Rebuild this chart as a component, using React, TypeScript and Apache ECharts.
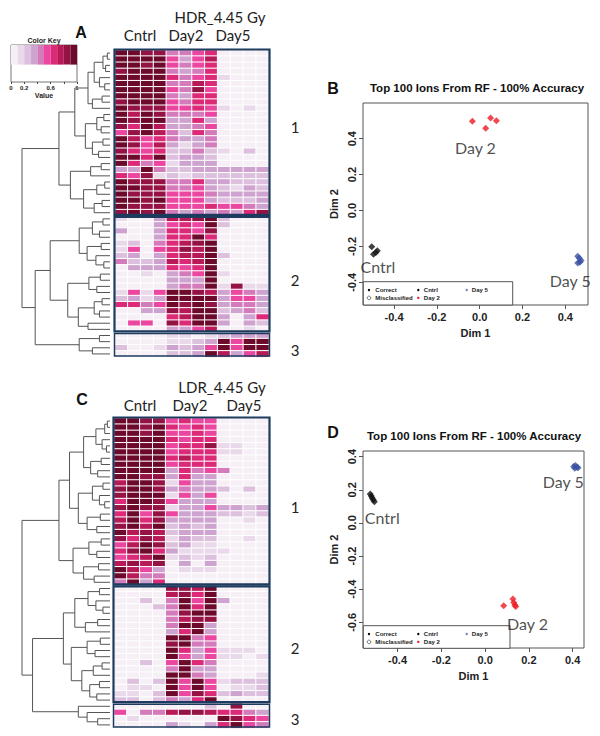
import React, { useEffect, useRef } from "react";
import * as echarts from "echarts";

// ---------- heatmap data (binned colour-key levels 0..9) ----------
const sampleColumns = ["C1", "C2", "C3", "C4", "D2a", "D2b", "D2c", "D2d", "D5a", "D5b", "D5c", "D5d"];
const levelColors = ["#f6f0f6", "#e9d9ea", "#dcc0dd", "#cfa3cf", "#d47bbb", "#ec47a0", "#dc2a78", "#b81a58", "#951244", "#6d0a2c"];
const keyBreaks = [0, 0.1, 0.2, 0.3, 0.4, 0.5, 0.6, 0.7, 0.8, 0.9, 1];
const keyTicks = [0, 0.2, 0.4, 0.6, 0.8, 1];
const keyLabels = [0, 0.2, 0.6, 1];

const hdrCluster1 = [
  [9, 9, 8, 8, 4, 4, 5, 6, 0, 0, 0, 0],
  [9, 9, 9, 9, 5, 3, 5, 7, 0, 0, 0, 0],
  [9, 9, 8, 9, 5, 4, 5, 6, 0, 0, 0, 0],
  [8, 9, 9, 9, 4, 3, 4, 6, 0, 0, 0, 0],
  [9, 9, 9, 9, 6, 4, 5, 6, 1, 0, 0, 0],
  [9, 9, 9, 9, 4, 4, 7, 6, 0, 0, 0, 0],
  [9, 9, 9, 9, 5, 4, 8, 5, 0, 0, 0, 0],
  [9, 9, 9, 9, 4, 3, 6, 6, 0, 0, 0, 0],
  [8, 9, 9, 9, 5, 4, 6, 6, 0, 0, 0, 0],
  [9, 8, 8, 8, 5, 5, 6, 5, 1, 0, 1, 0],
  [9, 7, 9, 8, 4, 4, 4, 5, 0, 0, 0, 0],
  [9, 8, 9, 9, 3, 3, 6, 3, 0, 0, 0, 0],
  [8, 6, 9, 7, 3, 3, 4, 5, 0, 0, 0, 0],
  [5, 8, 9, 7, 4, 2, 6, 4, 0, 0, 0, 0],
  [9, 7, 5, 6, 4, 3, 3, 4, 0, 0, 0, 0],
  [9, 8, 5, 7, 3, 1, 3, 4, 0, 0, 0, 0],
  [8, 6, 5, 6, 2, 2, 4, 2, 1, 0, 2, 0],
  [9, 9, 6, 9, 2, 3, 3, 2, 0, 0, 0, 0],
  [9, 6, 4, 5, 1, 3, 3, 3, 0, 0, 0, 0],
  [3, 3, 9, 4, 2, 2, 3, 3, 3, 3, 3, 3],
  [6, 5, 8, 1, 2, 1, 2, 2, 2, 2, 2, 2],
  [9, 8, 8, 8, 4, 4, 6, 3, 3, 2, 2, 2],
  [9, 9, 8, 8, 4, 4, 5, 3, 2, 1, 3, 2],
  [9, 8, 8, 8, 5, 5, 5, 4, 3, 3, 3, 3],
  [9, 9, 8, 9, 5, 5, 5, 3, 2, 2, 2, 3],
  [9, 8, 8, 8, 5, 5, 5, 6, 5, 5, 4, 3],
  [8, 9, 8, 9, 4, 3, 4, 3, 4, 3, 6, 8],
];
const hdrCluster2 = [
  [1, 0, 0, 3, 7, 7, 8, 9, 2, 0, 0, 0],
  [0, 0, 0, 3, 5, 6, 5, 9, 2, 0, 0, 0],
  [3, 0, 0, 3, 6, 6, 5, 8, 0, 0, 0, 0],
  [0, 0, 0, 3, 6, 6, 9, 6, 0, 0, 0, 0],
  [1, 2, 0, 4, 6, 7, 8, 9, 0, 0, 0, 0],
  [1, 5, 0, 5, 6, 8, 7, 9, 0, 0, 0, 0],
  [2, 3, 0, 3, 6, 7, 7, 9, 2, 0, 0, 0],
  [4, 2, 2, 3, 7, 6, 7, 9, 0, 0, 0, 0],
  [0, 3, 3, 3, 6, 5, 6, 9, 0, 0, 0, 0],
  [0, 0, 1, 0, 3, 4, 5, 9, 1, 0, 0, 0],
  [0, 0, 0, 0, 3, 3, 3, 9, 0, 0, 0, 0],
  [0, 0, 0, 0, 3, 4, 4, 9, 1, 8, 1, 1],
  [1, 5, 1, 5, 9, 9, 8, 7, 3, 5, 4, 3],
  [2, 3, 1, 3, 9, 9, 9, 9, 3, 5, 5, 3],
  [6, 6, 4, 5, 9, 8, 9, 8, 3, 4, 4, 3],
  [0, 0, 3, 3, 8, 7, 9, 9, 2, 3, 4, 2],
  [0, 0, 0, 0, 6, 7, 9, 9, 3, 0, 3, 6],
  [0, 5, 5, 0, 8, 6, 9, 9, 3, 0, 3, 2],
  [0, 0, 0, 0, 3, 3, 5, 7, 0, 0, 1, 0],
];
const hdrCluster3 = [
  [0, 0, 0, 0, 1, 1, 0, 1, 2, 3, 3, 3],
  [0, 0, 0, 0, 1, 1, 2, 3, 9, 5, 9, 9],
  [2, 0, 0, 1, 3, 2, 3, 5, 9, 5, 9, 9],
  [0, 0, 0, 0, 2, 2, 3, 9, 7, 3, 5, 7],
];

const ldrCluster1 = [
  [9, 9, 8, 8, 5, 6, 5, 5, 0, 0, 0, 0],
  [9, 9, 8, 9, 6, 5, 6, 5, 0, 0, 0, 0],
  [9, 9, 8, 9, 5, 5, 6, 5, 0, 0, 0, 0],
  [9, 9, 9, 9, 6, 5, 6, 6, 0, 0, 0, 0],
  [9, 9, 9, 9, 5, 6, 6, 8, 1, 1, 0, 0],
  [9, 9, 9, 9, 5, 6, 6, 6, 1, 1, 0, 0],
  [9, 9, 9, 9, 6, 7, 6, 6, 0, 0, 0, 0],
  [9, 9, 9, 9, 5, 6, 6, 6, 0, 0, 0, 0],
  [9, 9, 9, 9, 3, 6, 4, 5, 4, 0, 0, 0],
  [9, 9, 8, 8, 3, 6, 3, 3, 0, 0, 0, 0],
  [7, 9, 9, 8, 1, 5, 3, 3, 0, 0, 0, 0],
  [8, 9, 9, 8, 3, 4, 3, 3, 2, 0, 2, 0],
  [8, 9, 9, 9, 1, 5, 3, 5, 0, 0, 0, 0],
  [6, 9, 9, 8, 5, 3, 3, 3, 0, 0, 0, 0],
  [8, 9, 8, 8, 1, 3, 3, 5, 3, 3, 2, 3],
  [6, 9, 5, 8, 5, 3, 3, 3, 2, 2, 1, 2],
  [7, 9, 6, 8, 3, 3, 3, 3, 0, 0, 1, 0],
  [8, 9, 7, 9, 2, 3, 2, 3, 0, 0, 0, 0],
  [9, 7, 8, 7, 2, 3, 3, 3, 0, 0, 0, 0],
  [8, 6, 8, 7, 1, 3, 2, 2, 0, 0, 1, 0],
  [5, 7, 9, 8, 2, 3, 1, 1, 0, 0, 0, 0],
  [6, 8, 9, 6, 3, 1, 1, 1, 1, 0, 0, 0],
  [5, 6, 7, 9, 1, 2, 1, 2, 0, 0, 0, 0],
  [7, 8, 7, 8, 0, 3, 0, 3, 0, 0, 0, 0],
  [9, 7, 5, 3, 0, 1, 1, 1, 0, 0, 0, 0],
  [9, 7, 4, 4, 0, 0, 0, 0, 0, 0, 0, 0],
  [4, 9, 3, 6, 0, 0, 0, 0, 0, 0, 0, 0],
];
const ldrCluster2 = [
  [0, 0, 0, 0, 8, 8, 7, 9, 0, 0, 0, 0],
  [0, 0, 0, 0, 7, 8, 6, 9, 0, 0, 0, 0],
  [0, 0, 2, 0, 4, 9, 5, 9, 3, 0, 0, 0],
  [0, 0, 0, 2, 4, 9, 6, 9, 0, 0, 0, 0],
  [0, 0, 0, 0, 4, 8, 9, 9, 0, 0, 0, 0],
  [0, 0, 0, 0, 4, 7, 8, 8, 0, 0, 0, 0],
  [0, 0, 0, 0, 4, 9, 9, 3, 0, 0, 0, 0],
  [0, 0, 0, 0, 3, 6, 9, 3, 0, 0, 0, 0],
  [0, 0, 0, 0, 9, 9, 4, 5, 0, 0, 0, 0],
  [0, 0, 0, 0, 8, 9, 4, 4, 0, 0, 0, 0],
  [0, 0, 0, 0, 9, 6, 3, 5, 1, 1, 1, 0],
  [0, 0, 0, 0, 9, 5, 3, 5, 1, 1, 0, 1],
  [0, 0, 2, 0, 5, 9, 6, 4, 0, 0, 0, 0],
  [0, 0, 0, 0, 4, 9, 3, 3, 0, 0, 0, 0],
  [0, 0, 0, 0, 9, 9, 4, 3, 0, 0, 0, 1],
  [0, 2, 0, 2, 9, 5, 9, 5, 1, 2, 2, 2],
  [0, 1, 1, 0, 9, 5, 9, 5, 0, 1, 1, 2],
  [1, 1, 0, 2, 9, 5, 8, 6, 2, 3, 2, 2],
  [2, 2, 0, 2, 4, 3, 6, 9, 0, 0, 0, 0],
];
const ldrCluster3 = [
  [0, 0, 0, 0, 0, 0, 0, 2, 0, 8, 0, 0],
  [5, 0, 4, 4, 7, 8, 8, 7, 6, 6, 4, 3],
  [0, 1, 0, 0, 0, 0, 0, 0, 9, 8, 6, 5],
  [0, 0, 0, 0, 3, 1, 0, 3, 6, 9, 5, 4],
];

// ---------- dendrograms: [height, left, right], leaves = row index ----------
type Tree = number | [number, Tree, Tree];
const hdrTree: Tree = [10,
  [5.8,
    [4.0,
      [2.5, [1.8, [0.8, [0.3, 0, 1], [0.5, 2, 3]], [1.2, 4, [0.6, 5, 6]]], [2.0, [0.9, 7, 8], 9]],
      [2.8, [1.5, [0.7, 10, 11], [1.0, 12, 13]], [2.0, [0.8, 14, 15], [1.3, 16, 17]]]],
    [4.5, [2.2, [1.0, 18, 19], 20], [3.0, [1.5, [0.6, 21, 22], 23], [1.8, [0.9, 24, 25], 26]]]],
  [8.5,
    [6.8,
      [3.5, [2.0, [0.8, 27, 28], [1.2, 29, 30]], [2.6, [1.0, 31, 32], [1.6, 33, [0.7, 34, 35]]]],
      [4.8, [2.4, [1.1, 36, 37], [1.5, 38, 39]], [3.6, [1.8, [0.9, 40, 41], [1.2, 42, 43]], [2.5, 44, 45]]]],
    [3.5, [1.2, 46, 47], [2.0, 48, 49]]]];

const ldrTree: Tree = [10,
  [5.8,
    [4.6,
      [3.0, [1.6, [0.6, [0.3, 0, 1], 2], [0.9, 3, [0.4, 4, 5]]], [2.2, [1.0, 6, 7], [1.4, 8, 9]]],
      [3.6, [2.0, [0.8, 10, 11], [1.2, 12, [0.6, 13, 14]]], [2.6, [1.1, 15, 16], [1.5, 17, 18]]]],
    [4.2, [2.4, [1.0, 19, 20], [1.5, 21, 22]], [3.0, [1.3, 23, 24], [1.8, 25, 26]]]],
  [8.8,
    [5.3,
      [4.0, [2.5, [1.2, 27, 28], [1.6, 29, [0.8, 30, 31]]], [2.8, [1.4, 32, 33], 34]],
      [4.4, [2.6, [1.1, 35, 36], [1.7, 37, 38]], [3.2, [1.9, [0.9, 39, 40], 41], [2.3, [1.2, 42, 43], [1.5, 44, 45]]]]],
    [3.6, 46, [2.6, 47, [1.4, 48, 49]]]]];

// ---------- MDS scatter data ----------
const hdrCntrl = [[-0.504, -0.202], [-0.478, -0.224], [-0.485, -0.233], [-0.496, -0.244]];
const hdrDay2 = [[-0.034, 0.497], [0.028, 0.458], [0.051, 0.515], [0.078, 0.5]];
const hdrDay5 = [[0.458, -0.255], [0.466, -0.266], [0.474, -0.278], [0.468, -0.288], [0.458, -0.292]];
const hdrTextLabels = [
  { name: "Day 2", value: [-0.02, 0.35] },
  { name: "Cntrl", value: [-0.475, -0.314] },
  { name: "Day 5", value: [0.423, -0.388] },
];
const ldrCntrl = [[-0.525, 0.175], [-0.52, 0.162], [-0.516, 0.15], [-0.511, 0.14], [-0.506, 0.128]];
const ldrDay2 = [[0.085, -0.5], [0.127, -0.46], [0.131, -0.48], [0.136, -0.495], [0.14, -0.505]];
const ldrDay5 = [[0.405, 0.34], [0.413, 0.347], [0.42, 0.336], [0.41, 0.33], [0.425, 0.333]];
const ldrTextLabels = [
  { name: "Day 5", value: [0.357, 0.247] },
  { name: "Cntrl", value: [-0.47, 0.033] },
  { name: "Day 2", value: [0.194, -0.609] },
];
const dimTicksX = [-0.4, -0.2, 0, 0.2, 0.4];
const dimTicksYB = [-0.4, -0.2, 0, 0.2, 0.4];
const dimTicksYD = [-0.6, -0.4, -0.2, 0, 0.2, 0.4];

const RED = "#ee1c24";
const BLUE = "#3a50a0";
const BOX = "#1d3b5e";
const RFONT = "Liberation Sans";

function flattenTree(t: Tree, out: number[][]): { y: number; h: number } {
  if (typeof t === "number") return { y: t, h: 0 };
  const l = flattenTree(t[1], out);
  const r = flattenTree(t[2], out);
  out.push([t[0], l.y, r.y, l.h, r.h]);
  return { y: (l.y + r.y) / 2, h: t[0] };
}

function heatData(rows: number[][]) {
  return rows.flatMap((row, r) => row.map((v, c) => [c, r, v]));
}

function clusterRanges(sizes: number[]) {
  const out: number[][] = [];
  let s = 0;
  sizes.forEach((n, i) => {
    out.push([0, s, s + n - 1, i]);
    s += n;
  });
  return out;
}

function txt(text: string, x: number, y: number, o: any = {}) {
  return {
    type: "text",
    x,
    y,
    silent: true,
    style: {
      text,
      fill: "#222",
      fontFamily: "Lato",
      fontSize: 15,
      textAlign: "center",
      textVerticalAlign: "middle",
      ...o,
    },
  };
}

function legendBox(x0: number, y0: number, w: number, h: number) {
  const rows = [8.3, 16.2];
  const dots = [5.7, 55, 103.4];
  const texts = [12, 60.5, 108.5];
  const items = [
    { c: 0, r: 0, t: "Correct", color: "#000", open: false },
    { c: 0, r: 1, t: "Misclassified", color: "#444", open: true },
    { c: 1, r: 0, t: "Cntrl", color: "#000", open: false },
    { c: 1, r: 1, t: "Day 2", color: RED, open: false },
    { c: 2, r: 0, t: "Day 5", color: "#6a7fb5", open: false },
  ];
  const children: any[] = [
    { type: "rect", shape: { x: 0, y: 0, width: w, height: h }, style: { fill: "#fff", stroke: "#555", lineWidth: 1 } },
  ];
  items.forEach((it) => {
    children.push({
      type: "circle",
      shape: { cx: dots[it.c], cy: rows[it.r], r: it.open ? 1.8 : 1.2 },
      style: it.open ? { fill: "none", stroke: it.color, lineWidth: 0.7 } : { fill: it.color },
    });
    children.push({
      type: "text",
      x: texts[it.c],
      y: rows[it.r],
      style: { text: it.t, fill: "#222", fontFamily: RFONT, fontWeight: "bold", fontSize: 6, textAlign: "left", textVerticalAlign: "middle" },
    });
  });
  return { type: "group", x: x0, y: y0, silent: true, children };
}

function boxRender(params: any, api: any) {
  const r0 = api.value(1);
  const r1 = api.value(2);
  const idx = api.value(3);
  const size = api.size([1, 1]);
  const a = api.coord([0, r0]);
  const b = api.coord([11, r1]);
  const x = a[0] - size[0] / 2 - 0.5;
  const y = a[1] - size[1] / 2 + (idx === 0 ? -0.5 : 1);
  const w = b[0] + size[0] / 2 - x + 0.5;
  const h = b[1] + size[1] / 2 - y - 1;
  return {
    type: "rect",
    shape: { x, y, width: w, height: h },
    style: { fill: "none", stroke: BOX, lineWidth: idx === 2 ? 1.5 : 2.2 },
  };
}

function dendroRender(params: any, api: any) {
  const h = api.value(0);
  const yl = api.value(1);
  const yr = api.value(2);
  const hl = api.value(3);
  const hr = api.value(4);
  const p1 = api.coord([hl, yl]);
  const p2 = api.coord([h, yl]);
  const p3 = api.coord([h, yr]);
  const p4 = api.coord([hr, yr]);
  return {
    type: "polyline",
    shape: { points: [p1, p2, p3, p4] },
    style: { fill: "none", stroke: "#555", lineWidth: 1 },
  };
}

function keyRender(params: any, api: any) {
  const lo = api.value(0);
  const hi = api.value(1);
  const lvl = api.value(2);
  const a = api.coord([lo, 1]);
  const b = api.coord([hi, 0.47]);
  return {
    type: "rect",
    shape: { x: a[0], y: a[1], width: b[0] - a[0], height: b[1] - a[1] },
    style: { fill: levelColors[lvl], stroke: null },
  };
}

const fmt1 = (v: number) => (Math.abs(v) < 1e-9 ? "0.0" : v.toFixed(1));

function dimAxisX(gi: number, min: number, max: number) {
  return {
    type: "value",
    gridIndex: gi,
    min,
    max,
    name: "Dim 1",
    nameLocation: "middle",
    nameGap: 22,
    nameTextStyle: { fontFamily: RFONT, fontWeight: "bold", fontSize: 11, color: "#222" },
    axisLine: { show: false, onZero: false },
    splitLine: { show: false },
    axisTick: { show: true, length: 4, lineStyle: { color: "#555" }, customValues: dimTicksX },
    axisLabel: {
      customValues: dimTicksX,
      margin: 6,
      fontFamily: RFONT,
      fontWeight: "bold",
      fontSize: 11,
      color: "#222",
      formatter: fmt1,
    },
  };
}

function dimAxisY(gi: number, min: number, max: number, ticks: number[]) {
  return {
    type: "value",
    gridIndex: gi,
    min,
    max,
    name: "Dim 2",
    nameLocation: "middle",
    nameGap: 24,
    nameTextStyle: { fontFamily: RFONT, fontWeight: "bold", fontSize: 11, color: "#222" },
    axisLine: { show: false, onZero: false },
    splitLine: { show: false },
    axisTick: { show: true, length: 4, lineStyle: { color: "#555" }, customValues: ticks },
    axisLabel: {
      customValues: ticks,
      rotate: 90,
      margin: 6,
      fontFamily: RFONT,
      fontWeight: "bold",
      fontSize: 11,
      color: "#222",
      formatter: fmt1,
    },
  };
}

function scatterSeries(name: string, data: number[][], color: string, ai: number) {
  return {
    type: "scatter",
    name,
    xAxisIndex: ai,
    yAxisIndex: ai,
    data,
    symbol: "diamond",
    symbolSize: 7,
    itemStyle: { color },
    silent: true,
  };
}

function labelSeries(data: any[], ai: number) {
  return {
    type: "scatter",
    xAxisIndex: ai,
    yAxisIndex: ai,
    data,
    symbolSize: 1,
    itemStyle: { color: "rgba(0,0,0,0)" },
    label: { show: true, position: "inside", formatter: "{b}", fontFamily: "Lato", fontSize: 16, color: "#222" },
    silent: true,
  };
}

export default function App() {
  const ref = useRef<HTMLDivElement>(null);
  useEffect(() => {
    document.body.style.margin = "0";
    if (!ref.current) return;
    const chart = echarts.init(ref.current, undefined, { renderer: "svg" });

    const hdrRows = [...hdrCluster1, ...hdrCluster2, ...hdrCluster3];
    const ldrRows = [...ldrCluster1, ...ldrCluster2, ...ldrCluster3];
    const hdrBoxes = clusterRanges([hdrCluster1.length, hdrCluster2.length, hdrCluster3.length]);
    const ldrBoxes = clusterRanges([ldrCluster1.length, ldrCluster2.length, ldrCluster3.length]);
    const hdrDendro: number[][] = [];
    flattenTree(hdrTree, hdrDendro);
    const ldrDendro: number[][] = [];
    flattenTree(ldrTree, ldrDendro);
    const keyData = levelColors.map((_, i) => [keyBreaks[i], keyBreaks[i + 1], i]);
    const nH = hdrRows.length;
    const nL = ldrRows.length;

    const hidden = { show: false };
    const option: any = {
      animation: false,
      backgroundColor: "#fff",
      grid: [
        { left: 115, top: 50, width: 154, height: 307 },
        { left: 114, top: 418, width: 155, height: 310 },
        { left: 22, top: 50, width: 88, height: 307 },
        { left: 22, top: 418, width: 88, height: 310 },
        { left: 363, top: 103, width: 225, height: 202, show: true, borderColor: "#555", borderWidth: 1 },
        { left: 363, top: 451, width: 221, height: 197, show: true, borderColor: "#555", borderWidth: 1 },
        { left: 11, top: 45, width: 66, height: 37, show: true, borderColor: "#777", borderWidth: 1 },
      ],
      xAxis: [
        { type: "category", gridIndex: 0, data: sampleColumns, ...hidden },
        { type: "category", gridIndex: 1, data: sampleColumns, ...hidden },
        { type: "value", gridIndex: 2, min: 0, max: 10, inverse: true, ...hidden },
        { type: "value", gridIndex: 3, min: 0, max: 10, inverse: true, ...hidden },
        dimAxisX(4, -0.545, 0.506),
        dimAxisX(5, -0.558, 0.452),
        {
          type: "value",
          gridIndex: 6,
          min: 0,
          max: 1,
          name: "Value",
          nameLocation: "middle",
          nameGap: 10,
          nameTextStyle: { fontFamily: RFONT, fontWeight: "bold", fontSize: 7, color: "#222" },
          axisLine: { show: false, onZero: false },
          splitLine: { show: false },
          axisTick: { show: true, length: 2, customValues: keyTicks, lineStyle: { color: "#444" } },
          axisLabel: {
            customValues: keyLabels,
            margin: 3,
            fontFamily: RFONT,
            fontWeight: "bold",
            fontSize: 6,
            color: "#222",
            formatter: (v: number) => String(v),
          },
        },
      ],
      yAxis: [
        { type: "category", gridIndex: 0, data: hdrRows.map((_, i) => String(i)), inverse: true, ...hidden },
        { type: "category", gridIndex: 1, data: ldrRows.map((_, i) => String(i)), inverse: true, ...hidden },
        { type: "value", gridIndex: 2, min: -0.5, max: nH - 0.5, inverse: true, ...hidden },
        { type: "value", gridIndex: 3, min: -0.5, max: nL - 0.5, inverse: true, ...hidden },
        dimAxisY(4, -0.526, 0.599, dimTicksYB),
        dimAxisY(5, -0.755, 0.434, dimTicksYD),
        { type: "value", gridIndex: 6, min: 0, max: 1, ...hidden },
      ],
      visualMap: {
        type: "piecewise",
        show: false,
        dimension: 2,
        seriesIndex: [0, 1],
        pieces: levelColors.map((c, i) => ({ value: i, color: c })),
      },
      series: [
        {
          type: "heatmap",
          xAxisIndex: 0,
          yAxisIndex: 0,
          data: heatData(hdrRows),
          itemStyle: { borderColor: "#fff", borderWidth: 1 },
          silent: true,
        },
        {
          type: "heatmap",
          xAxisIndex: 1,
          yAxisIndex: 1,
          data: heatData(ldrRows),
          itemStyle: { borderColor: "#fff", borderWidth: 1 },
          silent: true,
        },
        { type: "custom", xAxisIndex: 0, yAxisIndex: 0, data: hdrBoxes, renderItem: boxRender, clip: false, z: 5, silent: true },
        { type: "custom", xAxisIndex: 1, yAxisIndex: 1, data: ldrBoxes, renderItem: boxRender, clip: false, z: 5, silent: true },
        { type: "custom", xAxisIndex: 2, yAxisIndex: 2, data: hdrDendro, renderItem: dendroRender, clip: false, silent: true },
        { type: "custom", xAxisIndex: 3, yAxisIndex: 3, data: ldrDendro, renderItem: dendroRender, clip: false, silent: true },
        scatterSeries("Cntrl", hdrCntrl, "#111", 4),
        scatterSeries("Day 2", hdrDay2, RED, 4),
        scatterSeries("Day 5", hdrDay5, BLUE, 4),
        labelSeries(hdrTextLabels, 4),
        scatterSeries("Cntrl", ldrCntrl, "#111", 5),
        scatterSeries("Day 2", ldrDay2, RED, 5),
        scatterSeries("Day 5", ldrDay5, BLUE, 5),
        labelSeries(ldrTextLabels, 5),
        { type: "custom", xAxisIndex: 6, yAxisIndex: 6, data: keyData, renderItem: keyRender, silent: true },
      ],
      graphic: [
        txt("Color Key", 44, 40, { fontFamily: RFONT, fontWeight: "bold", fontSize: 7 }),
        txt("A", 81, 32, { fontFamily: RFONT, fontWeight: "bold", fontSize: 16, fill: "#111" }),
        txt("HDR_4.45 Gy", 220, 17),
        txt("Cntrl", 140, 35),
        txt("Day2", 186, 35),
        txt("Day5", 233, 35),
        txt("1", 295, 127),
        txt("2", 295, 280),
        txt("3", 295, 350),
        txt("C", 82, 399, { fontFamily: RFONT, fontWeight: "bold", fontSize: 16, fill: "#111" }),
        txt("LDR_4.45 Gy", 222, 387),
        txt("Cntrl", 140, 405),
        txt("Day2", 190, 405),
        txt("Day5", 244, 405),
        txt("1", 295, 507),
        txt("2", 295, 648),
        txt("3", 295, 719),
        txt("B", 333, 88, { fontFamily: RFONT, fontWeight: "bold", fontSize: 16, fill: "#111" }),
        txt("Top 100 Ions From RF - 100% Accuracy", 477, 88, { fontFamily: RFONT, fontWeight: "bold", fontSize: 11.5, fill: "#111" }),
        txt("D", 333, 432, { fontFamily: RFONT, fontWeight: "bold", fontSize: 16, fill: "#111" }),
        txt("Top 100 Ions From RF - 100% Accuracy", 474, 436, { fontFamily: RFONT, fontWeight: "bold", fontSize: 11.5, fill: "#111" }),
        legendBox(363.3, 281.7, 149.4, 23.3),
        legendBox(363.3, 625.7, 146.7, 22.6),
      ],
    };
    chart.setOption(option);
    return () => chart.dispose();
  }, []);
  return <div ref={ref} style={{ width: 600, height: 736, background: "#fff" }} />;
}
